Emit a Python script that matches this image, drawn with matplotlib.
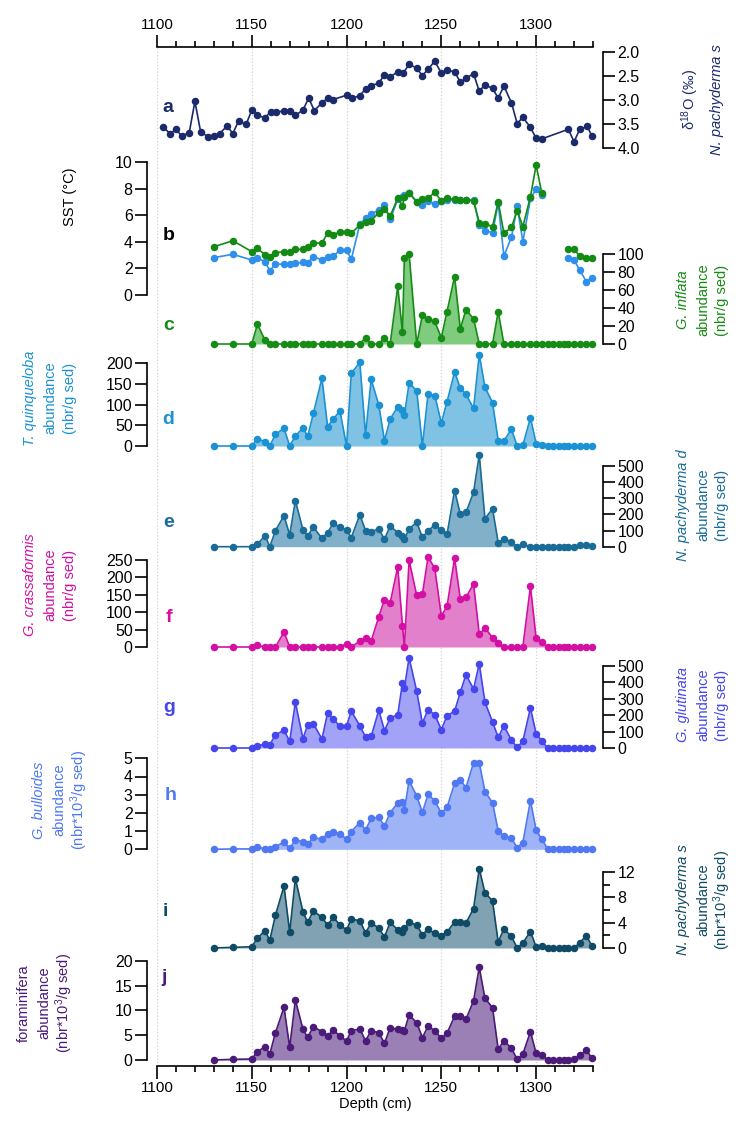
import numpy as np
import matplotlib
matplotlib.use('Agg')
import matplotlib.pyplot as plt
from matplotlib.ticker import MultipleLocator

plt.rcParams['font.family'] = ['Liberation Sans', 'DejaVu Sans']
plt.rcParams['mathtext.fontset'] = 'custom'
plt.rcParams['mathtext.rm'] = 'Liberation Sans'
plt.rcParams['mathtext.it'] = 'Liberation Sans:italic'
plt.rcParams['mathtext.default'] = 'rm'

nan = np.nan

# --- a: d18O N. pachyderma s (own sampling)
a_depth = [1103, 1107, 1110, 1113, 1117, 1120, 1123, 1127, 1130, 1133,
           1137, 1140, 1143, 1147, 1150, 1153, 1157, 1160, 1163, 1167,
           1170, 1173, 1177, 1180, 1183, 1187, 1190, 1193, 1200, 1203,
           1207, 1210, 1213, 1217, 1220, 1223, 1227, 1230, 1233, 1237,
           1240, 1243, 1246.5, 1250, 1253, 1257, 1260, 1263, 1267, 1270,
           1273, 1277, 1280, 1283, 1287, 1290, 1293, 1297, 1300, 1303,
           1317, 1320, 1323, 1327, 1329.5]
a_d18o = [3.56, 3.70, 3.61, 3.75, 3.68, 3.03, 3.66, 3.77, 3.75, 3.70,
          3.54, 3.70, 3.44, 3.51, 3.21, 3.32, 3.37, 3.24, 3.26, 3.22,
          3.22, 3.32, 3.21, 2.96, 3.22, 3.06, 2.96, 2.99, 2.90, 2.96,
          2.91, 2.77, 2.70, 2.65, 2.47, 2.52, 2.41, 2.44, 2.25, 2.34,
          2.49, 2.36, 2.19, 2.44, 2.38, 2.41, 2.63, 2.55, 2.45, 2.82,
          2.68, 2.76, 2.96, 2.71, 3.06, 3.49, 3.36, 3.57, 3.80, 3.81,
          3.61, 3.87, 3.61, 3.55, 3.76]

# --- common sampling for b-j
depth = [1130, 1140, 1150, 1153, 1157, 1159.5, 1162.5, 1167, 1170, 1173,
         1177, 1179.5, 1182.5, 1187, 1190, 1193, 1196.5, 1200, 1202.5, 1207,
         1210, 1213, 1217, 1220, 1223, 1227, 1229.5, 1230.5, 1233, 1237,
         1240, 1243, 1246.5, 1250, 1253, 1257, 1260, 1263, 1267, 1270,
         1273, 1277, 1280, 1283, 1287, 1290, 1293, 1297, 1300, 1303,
         1306, 1309, 1312, 1314.5, 1317, 1320, 1323, 1326.5, 1329.5]

sst_green = [3.63, 4.08, 3.26, 3.51, 3.01, 2.88, 3.18, 3.26, 3.26, 3.43,
             3.43, 3.58, 3.88, 3.93, 4.64, 4.51, 4.76, 4.76, 4.64, 5.26,
             5.51, 5.59, 6.19, 6.44, 5.94, 7.27, 6.72, 7.39, 7.64, 7.02,
             7.19, 7.27, 7.72, 7.07, 7.27, 7.19, 7.14, 7.14, 7.09, 5.44,
             5.34, 5.14, 7.02, 4.64, 5.09, 6.34, 5.14, 7.39, 9.77, 7.64,
             nan, nan, nan, nan, 3.46, 3.43, 2.93, 2.76, 2.76]
sst_blue = [2.81, 3.06, 2.63, 2.76, 2.51, 1.83, 2.33, 2.31, 2.31, 2.38,
            2.46, 2.43, 2.88, 2.63, 2.88, 2.93, 3.38, 3.38, 2.68, 5.34,
            5.76, 6.09, 6.39, 6.77, 5.69, 7.19, 7.39, 7.54, 7.69, 7.02,
            6.77, 7.09, 6.84, 7.09, 7.14, 7.14, 7.14, 7.14, 7.14, 5.26,
            4.84, 4.69, 6.89, 2.93, 4.34, 6.69, 4.01, 7.27, 7.94, 7.52,
            nan, nan, nan, nan, 2.76, 2.63, 1.88, 1.00, 1.30]

inflata = [0, 0, 0, 22, 4, 0, 0, 0, 0, 0,
           0, 0, 0, 0, 0, 0, 0, 0, 0, 0,
           7, 0, 0, 7, 0, 64, 13, 96, 100, 0,
           32, 28, 25, 7, 36, 75, 17, 38, 28, 0,
           0, 0, 36, 0, 0, 0, 0, 0, 0, 0,
           0, 0, 0, 0, 0, 0, 0, 0, 0]
quinqueloba = [0, 0, 0, 18, 10, 0, 28, 43, 0, 24,
               44, 23, 79, 164, 47, 65, 85, 0, 176, 202,
               27, 161, 99, 13, 65, 95, 87, 75, 152, 134,
               0, 126, 122, 56, 107, 179, 140, 125, 91, 221,
               142, 105, 13, 13, 40, 0, 2, 68, 6, 2,
               0, 0, 0, 0, 0, 0, 0, 0, 0]
pachy_d = [0, 0, 0, 17, 67, 0, 100, 192, 73, 285,
           104, 67, 121, 52, 87, 146, 121, 104, 56, 198,
           100, 94, 110, 46, 129, 87, 67, 46, 110, 152,
           58, 98, 135, 104, 77, 348, 202, 212, 337, 569,
           173, 235, 25, 46, 31, 0, 15, 0, 0, 0,
           0, 0, 0, 0, 0, 0, 12, 8, 4]
crassaformis = [0, 0, 0, 5, 0, 0, 0, 43, 0, 0,
                0, 0, 0, 0, 0, 0, 0, 10, 0, 17,
                27, 17, 87, 136, 127, 230, 60, 0, 249, 148,
                152, 258, 227, 89, 117, 255, 138, 143, 181, 36,
                55, 27, 12, 0, 0, 0, 0, 174, 25, 15,
                0, 0, 0, 0, 0, 0, 0, 0, 0]
glutinata = [0, 0, 0, 14, 24, 20, 81, 108, 41, 278,
             57, 142, 148, 55, 213, 177, 132, 136, 224, 136,
             67, 71, 230, 106, 183, 203, 396, 366, 550, 346,
             152, 234, 203, 112, 197, 224, 340, 447, 360, 514,
             280, 159, 65, 136, 47, 4, 41, 244, 87, 45,
             0, 0, 0, 0, 0, 0, 0, 0, 0]
bulloides = [0, 0.02, 0.02, 0.11, 0.04, 0, 0.15, 0.40, 0.05, 0.51,
             0.42, 0.27, 0.66, 0.55, 0.84, 0.95, 0.84, 0.57, 0.97, 1.47,
             1.06, 1.70, 1.76, 1.28, 2.01, 2.55, 2.62, 2.16, 3.77, 2.93,
             2.03, 3.02, 2.67, 1.98, 2.31, 3.63, 3.81, 3.39, 4.76, 4.76,
             3.17, 2.56, 1.01, 0.73, 0.60, 0.09, 0.37, 2.67, 1.06, 0.55,
             0.04, 0.02, 0.02, 0.02, 0.02, 0.02, 0.02, 0.02, 0.02]
pachy_s = [0, 0.1, 0.2, 1.56, 2.75, 1.19, 5.2, 9.77, 2.49, 10.96,
           5.71, 4.05, 5.87, 4.83, 3.64, 4.83, 3.64, 2.86, 4.57, 4.31,
           2.39, 3.95, 3.17, 1.71, 4.05, 2.86, 2.49, 3.12, 4.05, 3.64,
           2.08, 3.01, 2.34, 1.97, 2.49, 4.16, 4.16, 3.95, 6.23, 12.52,
           8.73, 7.43, 0.94, 3.01, 1.82, 0, 0.78, 2.6, 0.16, 0.31,
           0, 0, 0, 0, 0, 0, 0.83, 1.97, 0.26]
forams = [0, 0.13, 0.2, 1.68, 2.68, 1.21, 5.5, 10.6, 2.55, 12.08,
          6.17, 4.56, 6.71, 5.7, 4.83, 6.04, 4.83, 3.83, 5.91, 6.24,
          3.89, 5.91, 5.5, 3.36, 6.51, 6.17, 6.04, 5.91, 9.06, 7.52,
          4.5, 6.85, 5.91, 4.36, 5.37, 8.86, 8.93, 8.19, 11.95, 18.66,
          12.42, 10.54, 2.15, 3.89, 2.35, 0.13, 1.21, 5.7, 1.34, 1.0,
          0, 0, 0, 0, 0, 0.27, 0.94, 2.0, 0.33]

W, H = 741, 1133
fig = plt.figure(figsize=(W / 100, H / 100), dpi=100)
X0, X1 = 157, 593


def add_panel(px_lo, v_lo, px_hi, v_hi):
    ax = fig.add_axes([X0 / W, 1 - px_lo / H, (X1 - X0) / W, (px_lo - px_hi) / H])
    ax.set_xlim(1100, 1330)
    ax.set_ylim(v_lo, v_hi)
    ax.patch.set_visible(False)
    for s in ax.spines.values():
        s.set_visible(False)
    ax.set_xticks([])
    return ax


def style_y(ax, side, ticks, minor=None):
    sp = ax.spines[side]
    sp.set_visible(True)
    sp.set_position(('outward', 7))
    sp.set_bounds(min(ticks), max(ticks))
    sp.set_linewidth(1.2)
    if side == 'left':
        ax.yaxis.tick_left()
    else:
        ax.yaxis.tick_right()
    ax.set_yticks(ticks)
    ax.tick_params(axis='y', direction='out', length=8.5, width=1.2, labelsize=11.5, pad=2)
    if minor:
        ax.set_yticks(minor, minor=True)
        ax.tick_params(axis='y', which='minor', direction='out', length=5, width=1.2)


def draw(ax, x, y, line, fill=None):
    if fill:
        ax.fill_between(x, 0, y, color=fill, lw=0, clip_on=False)
    ax.plot(x, y, '-o', color=line, ms=4.4, lw=1.2, clip_on=False)


# background: depth axes top and bottom + dotted grid
bg = fig.add_axes([X0 / W, 1 - 1066 / H, (X1 - X0) / W, (1066 - 47) / H])
bg.set_xlim(1100, 1330)
bg.set_yticks([])
bg.patch.set_visible(False)
bg.spines['left'].set_visible(False)
bg.spines['right'].set_visible(False)
bg.spines['top'].set_linewidth(1.2)
bg.spines['bottom'].set_linewidth(1.2)
bg.xaxis.set_major_locator(MultipleLocator(50))
bg.xaxis.set_minor_locator(MultipleLocator(10))
bg.tick_params(axis='x', which='both', top=True, bottom=True, labeltop=True,
               labelbottom=True, direction='out', width=1.2, labelsize=11, pad=2)
bg.tick_params(axis='x', which='major', length=9)
bg.tick_params(axis='x', which='minor', length=4.5)
bg.grid(axis='x', which='major', linestyle=':', color='#d0d0d0', lw=0.9)
bg.set_xlabel('Depth (cm)', fontsize=10.5, labelpad=1)

# a
ax = add_panel(148, 4.0, 52, 2.0)
draw(ax, a_depth, a_d18o, '#1b2a6b')
style_y(ax, 'right', [2.0, 2.5, 3.0, 3.5, 4.0])
ax.set_yticklabels(['2.0', '2.5', '3.0', '3.5', '4.0'])

# b
ax = add_panel(295, 0, 162, 10)
ax.plot(depth, sst_blue, '-o', color='#2e90ec', ms=4.4, lw=1.2, clip_on=False)
ax.plot(depth, sst_green, '-o', color='#138a13', ms=4.4, lw=1.2, clip_on=False)
style_y(ax, 'left', [0, 2, 4, 6, 8, 10])

# c
ax = add_panel(344, 0, 254, 100)
draw(ax, depth, inflata, '#168c16', '#7fcc7f')
style_y(ax, 'right', [0, 20, 40, 60, 80, 100])

# d
ax = add_panel(446, 0, 363.3, 200)
draw(ax, depth, quinqueloba, '#1b92d4', '#80c2e4')
style_y(ax, 'left', [0, 50, 100, 150, 200])

# e
ax = add_panel(546.7, 0, 466, 500)
draw(ax, depth, pachy_d, '#1a6c98', '#80b0ca')
style_y(ax, 'right', [0, 100, 200, 300, 400, 500])

# f
ax = add_panel(647, 0, 560, 250)
draw(ax, depth, crassaformis, '#d40fa4', '#e380cc')
style_y(ax, 'left', [0, 50, 100, 150, 200, 250])

# g
ax = add_panel(748, 0, 666, 500)
draw(ax, depth, glutinata, '#4646ee', '#a2a2f6')
style_y(ax, 'right', [0, 100, 200, 300, 400, 500])

# h
ax = add_panel(849.3, 0, 758.3, 5)
draw(ax, depth, bulloides, '#4f78f2', '#9eb4f6')
style_y(ax, 'left', [0, 1, 2, 3, 4, 5])

# i
ax = add_panel(948, 0, 872, 12)
draw(ax, depth, pachy_s, '#0f4a66', '#80a2b2')
style_y(ax, 'right', [0, 4, 8, 12], minor=[2, 6, 10])

# j
ax = add_panel(1060, 0, 960.7, 20)
draw(ax, depth, forams, '#4a1b78', '#9a80b4')
style_y(ax, 'left', [0, 5, 10, 15, 20])

# panel letters
letters = [('a', 168, 108, '#1b2a6b'), ('b', 169, 235, 'black'), ('c', 169, 326, '#168c16'),
           ('d', 168, 420, '#1b92d4'), ('e', 169, 522, '#1a6c98'), ('f', 169, 618, '#d40fa4'),
           ('g', 169, 707, '#4646ee'), ('h', 171, 795, '#4f78f2'), ('i', 165, 911, '#0f4a66'),
           ('j', 164, 978, '#4a1b78')]
for t, x, y, c in letters:
    fig.text(x / W, 1 - y / H, t, color=c, fontsize=14, fontweight='bold', ha='center', va='center')


def vlabel(lines, xs, yc, color):
    for (txt, italic), x in zip(lines, xs):
        fig.text(x / W, 1 - yc / H, txt, rotation=90, color=color, fontsize=10.5,
                 ha='center', va='center', style='italic' if italic else 'normal')


ab = ('abundance', False)
nbr = ('(nbr/g sed)', False)
nbr3 = ('(nbr*10$^3$/g sed)', False)

vlabel([('SST (°C)', False)], [70], 197, 'black')
vlabel([('T. quinqueloba', True), ab, nbr], [30, 50, 70], 398, '#1b92d4')
vlabel([('G. crassaformis', True), ab, nbr], [30, 50, 70], 585, '#d40fa4')
vlabel([('G. bulloides', True), ab, nbr3], [39, 59, 79], 800, '#4f78f2')
vlabel([('foraminifera', False), ab, nbr3], [24, 44, 64], 1003, '#4a1b78')

vlabel([('δ$^{18}$O (‰)', False), ('N. pachyderma s', True)], [690, 717], 100, '#1b2a6b')
vlabel([('G. inflata', True), ab, nbr], [683, 703, 722], 300, '#168c16')
vlabel([('N. pachyderma d', True), ab, nbr], [683, 703, 722], 505, '#1a6c98')
vlabel([('G. glutinata', True), ab, nbr], [683, 703, 722], 705, '#4646ee')
vlabel([('N. pachyderma s', True), ab, nbr3], [683, 703, 722], 900, '#0f4a66')

fig.savefig('out.png', dpi=100)
